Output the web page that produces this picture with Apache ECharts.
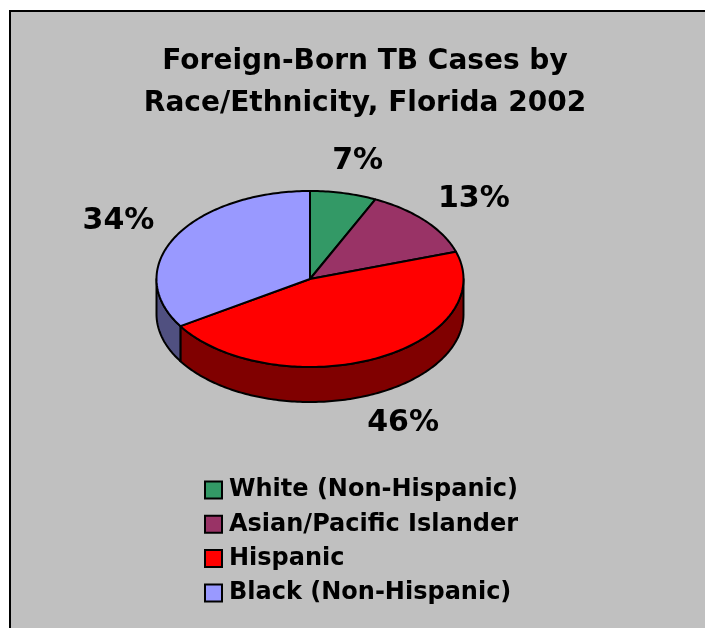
<!DOCTYPE html>
<html>
<head>
<meta charset="utf-8">
<script src="https://cdn.jsdelivr.net/npm/echarts@6/dist/echarts.min.js"></script>
<style>
  html, body { margin: 0; padding: 0; background: #fff; overflow: hidden; }
  #chart {
    position: absolute;
    left: 9px;
    top: 10px;
    width: 708px;
    height: 640px;
    border-left: 2px solid #000;
    border-top: 2px solid #000;
    background: #c0c0c0;
  }
</style>
</head>
<body>
<div id="chart"></div>
<script>
// data
const categories = ['White (Non-Hispanic)', 'Asian/Pacific Islander', 'Hispanic', 'Black (Non-Hispanic)'];
const shares = [7, 13, 46, 34];
const topColors = ['#339966', '#993366', '#ff0000', '#9999ff'];
const sideColors = ['#1a4d33', '#4d1a33', '#800000', '#505080'];

const FONT = "Tahoma, 'DejaVu Sans', sans-serif";

// pie geometry (ellipse, in container px)
const CX = 299, CY = 267, RX = 153.5, RY = 88, DEPTH = 35;
const total = shares.reduce((a, b) => a + b, 0);
const cumStart = [];
shares.reduce((acc, v, i) => { cumStart[i] = acc; return acc + v; }, 0);

function arcPoints(a0, a1, dy) {
  const pts = [];
  const n = Math.max(2, Math.ceil(Math.abs(a1 - a0) / (Math.PI / 180)));
  for (let k = 0; k <= n; k++) {
    const a = a0 + (a1 - a0) * k / n;
    pts.push([CX + RX * Math.cos(a), CY + RY * Math.sin(a) + dy]);
  }
  return pts;
}

function renderSlice(params, api) {
  const i = params.seriesIndex;
  const start = -Math.PI / 2 + 2 * Math.PI * api.value(0) / total;
  const end = start + 2 * Math.PI * api.value(1) / total;
  const children = [];

  // front wall, only the part facing the viewer (0..PI)
  const s = Math.max(start, 0), e = Math.min(end, Math.PI);
  if (e > s) {
    const top = arcPoints(s, e, 0);
    const bottom = arcPoints(e, s, DEPTH);
    children.push({
      type: 'polygon',
      z2: 1,
      shape: { points: top.concat(bottom) },
      style: { fill: sideColors[i], stroke: '#000', lineWidth: 2, lineJoin: 'round' }
    });
  }

  // top face
  children.push({
    type: 'polygon',
    z2: 5,
    shape: { points: [[CX, CY]].concat(arcPoints(start, end, 0)) },
    style: { fill: topColors[i], stroke: '#000', lineWidth: 2, lineJoin: 'round' }
  });

  // percent label outside the slice
  const mid = (start + end) / 2;
  const sin = Math.sin(mid);
  children.push({
    type: 'text',
    z2: 10,
    x: CX + (RX + 65) * Math.cos(mid),
    y: CY + (RY + 33) * sin + (sin > 0 ? DEPTH : 0),
    style: {
      text: api.value(1) + '%',
      fill: '#000',
      font: 'bold 30px ' + FONT,
      align: 'center',
      verticalAlign: 'middle'
    }
  });

  return { type: 'group', children: children };
}

const chart = echarts.init(document.getElementById('chart'), null, { renderer: 'canvas' });

chart.setOption({
  animation: false,
  backgroundColor: 'transparent',
  title: {
    text: 'Foreign-Born TB Cases by\nRace/Ethnicity, Florida 2002',
    left: 'center',
    top: 29,
    padding: 0,
    textStyle: {
      fontFamily: FONT,
      fontWeight: 'bold',
      fontSize: 28,
      lineHeight: 42,
      color: '#000'
    }
  },
  legend: {
    orient: 'vertical',
    left: 193,
    top: 466,
    padding: 0,
    itemWidth: 17,
    itemHeight: 17,
    itemGap: 10.3,
    icon: 'rect',
    data: categories,
    itemStyle: { borderColor: '#000', borderWidth: 2 },
    textStyle: {
      fontFamily: FONT,
      fontWeight: 'bold',
      fontSize: 24,
      lineHeight: 24,
      color: '#000',
      padding: [0, 0, 0, 2]
    }
  },
  series: categories.map((name, i) => ({
    type: 'custom',
    name: name,
    coordinateSystem: 'none',
    silent: true,
    itemStyle: { color: topColors[i] },
    renderItem: renderSlice,
    data: [{ value: [cumStart[i], shares[i]] }]
  }))
});
</script>
</body>
</html>
